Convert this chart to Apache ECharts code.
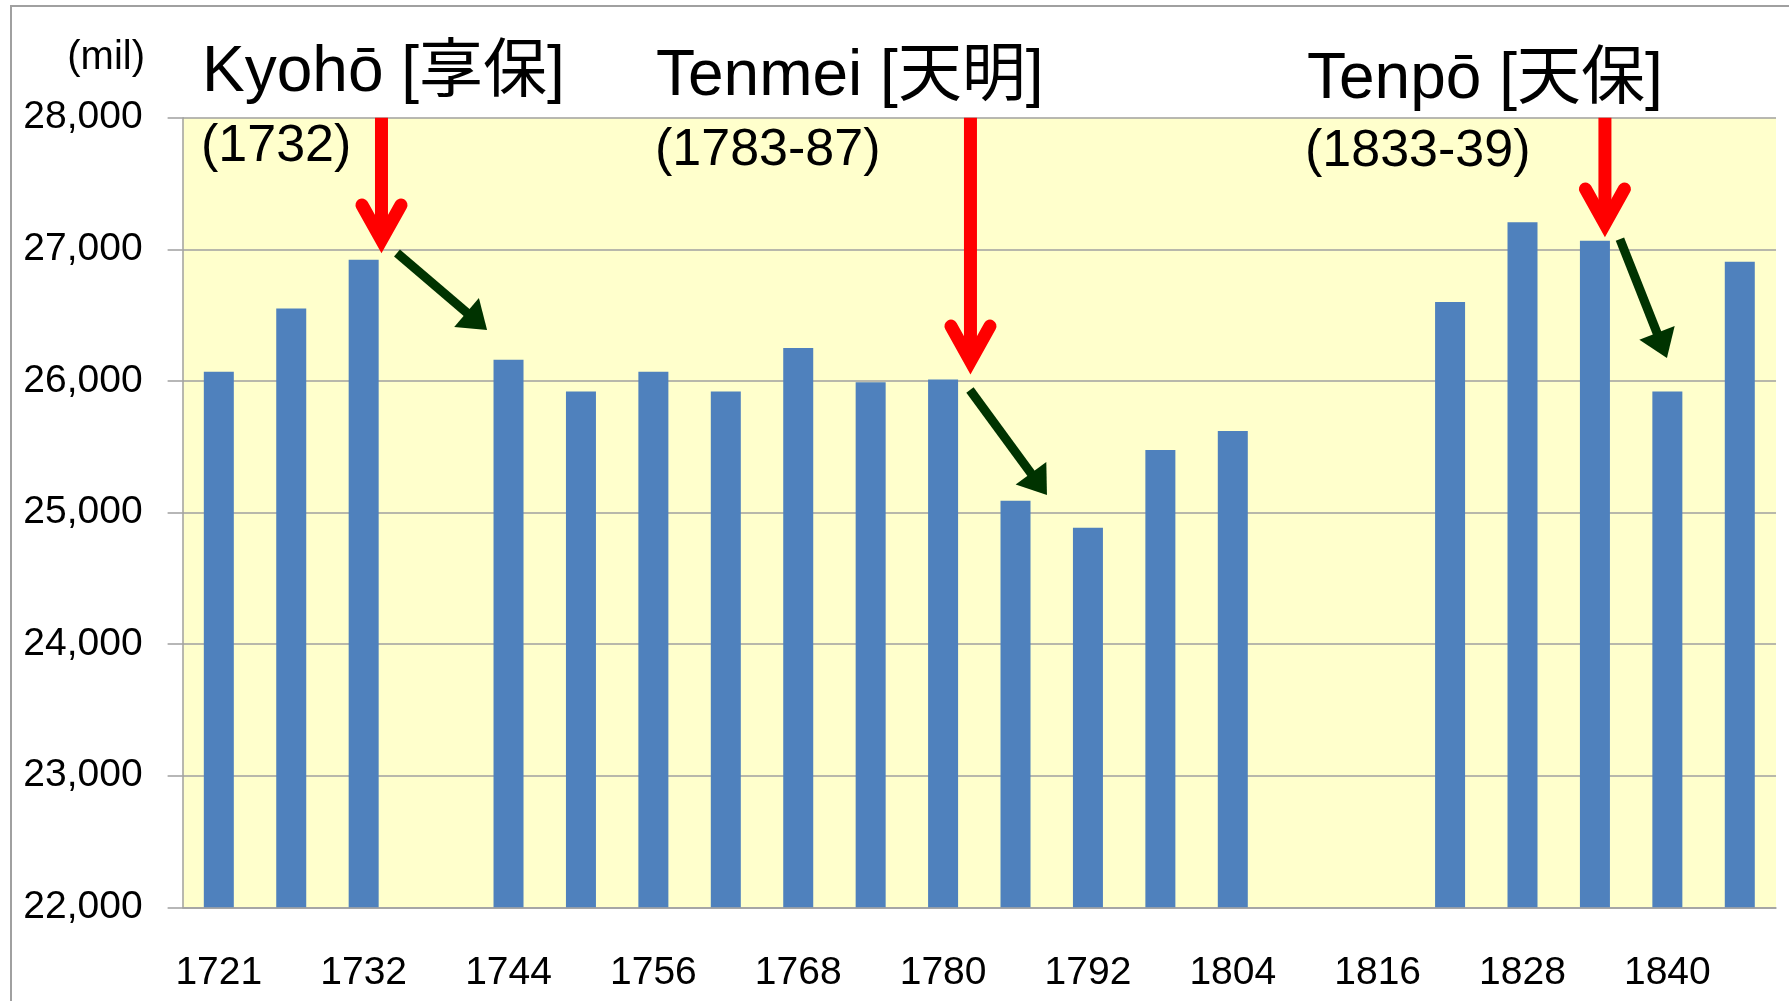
<!DOCTYPE html>
<html>
<head>
<meta charset="utf-8">
<script src="https://cdn.jsdelivr.net/npm/echarts@6/dist/echarts.min.js"></script>
<style>
  html, body { margin: 0; padding: 0; background: #fff; }
  #chart { width: 1789px; height: 1001px; }
</style>
</head>
<body>
<div id="chart"></div>
<script>
// categories (every 6 years, only every other one is labelled)
const years = ['1721', '1726', '1732', '1738', '1744', '1750', '1756', '1762', '1768', '1774', '1780',
  '1786', '1792', '1798', '1804', '1810', '1816', '1822', '1828', '1834', '1840', '1846']
// population, empty slots are null
const population = [26070, 26550, 26920, null, 26160, 25920, 26070, 25920, 26250, 25990, 26010,
  25090, 24885, 25475, 25620, null, null, 26600, 27205, 27065, 25920, 26905]

const yMin = 22000
const yMax = 28000
const yStep = 1000

// red arrows: [x (slot index), y start, y tip]
const redArrows = [
  [2.246, 28000, 26972],
  [10.378, 28000, 26052],
  [19.138, 28000, 27094]
]
// green arrows: [x1, y1, x2, y2]
const greenArrows = [
  [2.46, 26972, 3.704, 26387],
  [10.371, 25931, 11.434, 25133],
  [19.345, 27078, 19.994, 26174]
]

const latin = '"Liberation Sans", Arial, "Noto Sans CJK JP", sans-serif'

function renderRed(params, api) {
  const top = api.coord([api.value(0), api.value(1)])
  const tip = api.coord([api.value(0), api.value(2)])
  const v = [tip[0], tip[1] - 13]
  return {
    type: 'group',
    children: [
      {
        type: 'line',
        shape: { x1: top[0], y1: top[1], x2: v[0], y2: v[1] },
        style: { stroke: '#FF0000', lineWidth: 13 }
      },
      {
        type: 'polyline',
        shape: { points: [[v[0] - 19.5, v[1] - 35], [v[0], v[1]], [v[0] + 19.5, v[1] - 35]] },
        style: { stroke: '#FF0000', lineWidth: 13, lineCap: 'round', lineJoin: 'miter', fill: null }
      }
    ]
  }
}

function renderGreen(params, api) {
  const a = api.coord([api.value(0), api.value(1)])
  const b = api.coord([api.value(2), api.value(3)])
  const dx = b[0] - a[0]
  const dy = b[1] - a[1]
  const len = Math.hypot(dx, dy)
  const ux = dx / len
  const uy = dy / len
  const hl = 27
  const hw = 19
  const base = [b[0] - ux * hl, b[1] - uy * hl]
  return {
    type: 'group',
    children: [
      {
        type: 'line',
        shape: { x1: a[0], y1: a[1], x2: base[0] + ux * 2, y2: base[1] + uy * 2 },
        style: { stroke: '#003300', lineWidth: 9 }
      },
      {
        type: 'polygon',
        shape: { points: [b, [base[0] - uy * hw, base[1] + ux * hw], [base[0] + uy * hw, base[1] - ux * hw]] },
        style: { fill: '#003300' }
      }
    ]
  }
}

function text(str, x, y, size) {
  return {
    type: 'text',
    x: x,
    y: y,
    z: 100,
    style: {
      text: str,
      fontSize: size,
      fontFamily: latin,
      fill: '#000',
      align: 'left',
      verticalAlign: 'middle'
    }
  }
}

let chart = echarts.init(document.getElementById('chart'))
let option = {
  backgroundColor: '#fff',
  animation: false,
  grid: {
    left: 182.6,
    right: 13,
    top: 117.7,
    bottom: 93.7,
    show: true,
    backgroundColor: '#FFFFCC',
    borderWidth: 0
  },
  xAxis: [
    {
      type: 'category',
      data: years,
      boundaryGap: true,
      axisLine: { onZero: false, lineStyle: { color: '#A0A0A0', width: 1.5 } },
      axisTick: { interval: 0, length: 14, lineStyle: { color: '#A0A0A0', width: 1.5 } },
      axisLabel: {
        interval: 1,
        margin: 46,
        fontSize: 39,
        fontFamily: latin,
        color: '#000'
      },
      splitLine: { show: false }
    },
    {
      type: 'value',
      min: -0.5,
      max: 21.5,
      show: false
    }
  ],
  yAxis: {
    type: 'value',
    min: yMin,
    max: yMax,
    interval: yStep,
    axisLine: { show: true, onZero: false, lineStyle: { color: '#A0A0A0', width: 1.5 } },
    axisTick: { show: true, length: 15, lineStyle: { color: '#A0A0A0', width: 1.5 } },
    axisLabel: {
      margin: 40,
      fontSize: 39,
      fontFamily: latin,
      color: '#000',
      formatter: v => v.toLocaleString('en-US')
    },
    splitLine: { lineStyle: { color: '#A0A0A0', width: 1.5 } }
  },
  series: [
    {
      type: 'bar',
      data: population,
      barWidth: 30,
      itemStyle: { color: '#4F81BD' },
      z: 2
    },
    {
      type: 'custom',
      xAxisIndex: 1,
      yAxisIndex: 0,
      data: redArrows,
      renderItem: renderRed,
      silent: true,
      z: 10
    },
    {
      type: 'custom',
      xAxisIndex: 1,
      yAxisIndex: 0,
      data: greenArrows,
      renderItem: renderGreen,
      silent: true,
      z: 10
    }
  ],
  graphic: [
    {
      type: 'rect',
      shape: { x: 11, y: 6, width: 1800, height: 1010 },
      style: { stroke: '#A0A0A0', lineWidth: 2, fill: null },
      silent: true,
      z: -1
    },
    {
      type: 'text',
      x: 145,
      y: 58,
      style: { text: '(mil)', fontSize: 40, fontFamily: latin, fill: '#000', align: 'right', verticalAlign: 'middle' }
    },
    text('Kyohō [享保]', 202, 73, 64),
    text('(1732)', 201, 147, 52),
    text('Tenmei [天明]', 656, 77, 64),
    text('(1783-87)', 655, 151, 52),
    text('Tenpō [天保]', 1307, 80, 64),
    text('(1833-39)', 1305, 152, 52)
  ]
}
chart.setOption(option)
</script>
</body>
</html>
